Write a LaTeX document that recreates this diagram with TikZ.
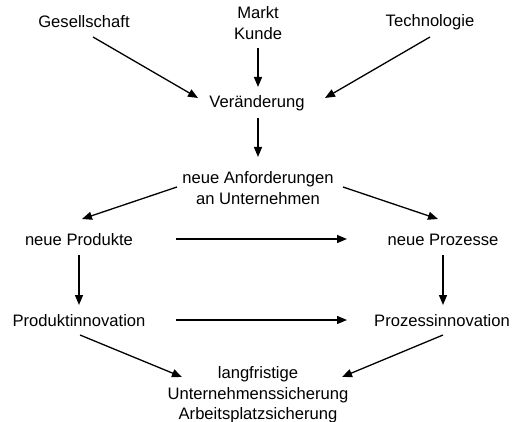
\documentclass[tikz,border=0pt]{standalone}
\usepackage{fontspec}
\setmainfont{Liberation Sans}
\usetikzlibrary{arrows.meta,calc}
\begin{document}
\begin{tikzpicture}[x=1pt,y=-1pt,
  lbl/.style={inner sep=0pt,align=center,font=\fontsize{16.6}{20.5}\selectfont},
  arr/.style={line width=1.3pt,-{Triangle[length=10pt,width=8pt]}}]
\useasboundingbox[fill=white] (0,0) rectangle (513,422);
\node[lbl] (g) at (84,22) {Gesellschaft};
\node[lbl] (m) at (258,23) {Markt\\Kunde};
\node[lbl] (t) at (430,22) {Technologie};
\node[lbl] (v) at (257,103) {Veränderung};
\node[lbl] (a) at (258,188) {neue Anforderungen\\an Unternehmen};
\node[lbl] (np) at (79,240) {neue Produkte};
\node[lbl] (nq) at (443,240) {neue Prozesse};
\node[lbl] (pi) at (79,321) {Produktinnovation};
\node[lbl] (qi) at (442,321) {Prozessinnovation};
\node[lbl] (l) at (258,395) {langfristige\\Unternehmenssicherung\\Arbeitsplatzsicherung};
\draw[arr] ($(g)+(9,15)$) -- ($(v)+(-59,-5)$);
\draw[arr] ($(m)+(0,25)$) -- ($(v)+(1,-16)$);
\draw[arr] ($(t)+(0,15)$) -- ($(v)+(68,-5)$);
\draw[arr] ($(v)+(1,15)$) -- ($(a)+(0,-31)$);
\draw[arr] ($(a)+(-81,-1)$) -- ($(np)+(3,-21)$);
\draw[arr] ($(a)+(85,-1)$) -- ($(nq)+(-5,-21)$);
\draw[arr] ($(np)+(97,-1)$) -- ($(nq)+(-96,-1)$);
\draw[arr] ($(np)+(0,15)$) -- ($(pi)+(0,-16)$);
\draw[arr] ($(nq)+(0,15)$) -- ($(qi)+(1,-16)$);
\draw[arr] ($(pi)+(97,-1)$) -- ($(qi)+(-95,-1)$);
\draw[arr] ($(pi)+(1,14)$) -- ($(l)+(-76,-18)$);
\draw[arr] ($(qi)+(1,14)$) -- ($(l)+(84,-18)$);
\end{tikzpicture}
\end{document}
